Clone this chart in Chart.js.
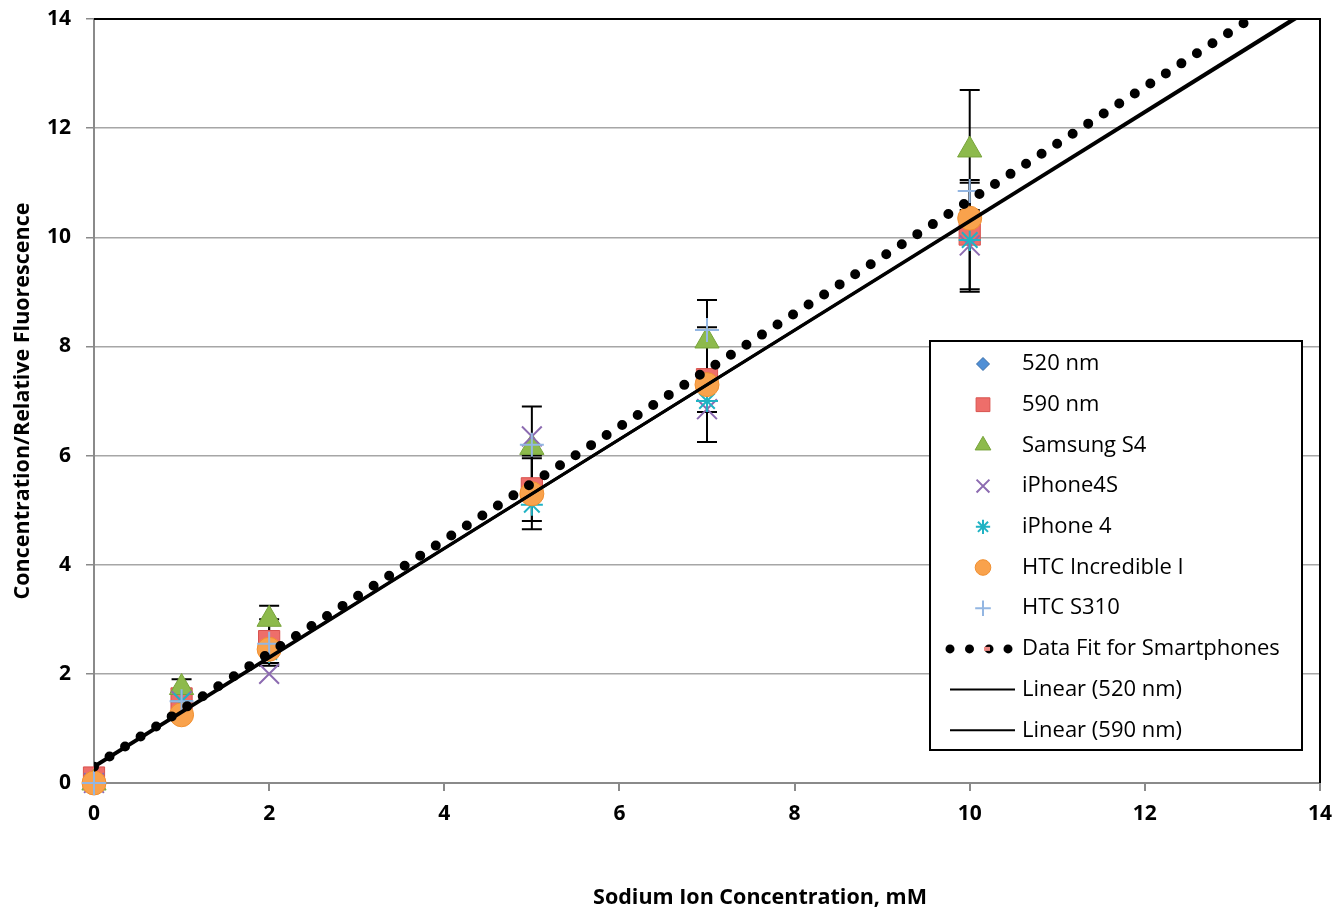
<!DOCTYPE html>
<html>
<head>
<meta charset="utf-8">
<title>Sodium ion calibration</title>
<script src="https://cdn.jsdelivr.net/npm/chart.js@4.4.0/dist/chart.umd.min.js"></script>
<style>
  html, body { margin: 0; padding: 0; background: #fff; }
  canvas { display: block; }
</style>
</head>
<body>
<canvas id="sodiumChart" width="1336" height="910"></canvas>
<script>
// concentrations measured (mM)
const concentration = [0, 1, 2, 5, 7, 10];

// concentration / relative fluorescence, per instrument
const nm520 = [0, 1.45, 2.45, 5.3, 7.3, 10.0];
const nm590 = [0.1, 1.55, 2.6, 5.4, 7.4, 10.05];
const samsungS4 = [0, 1.75, 3.0, 6.15, 8.1, 11.6];
const iphone4S = [0, 1.5, 2.0, 6.35, 6.85, 9.85];
const iphone4 = [0, 1.5, 2.4, 5.1, 7.0, 9.95];
const htcIncredible = [0, 1.25, 2.45, 5.3, 7.3, 10.35];
const htcS310 = [0, 1.5, 2.55, 6.2, 8.3, 10.85];

// error bar half-heights
const err520 = [0, 0.1, 0.3, 0.65, 1.05, 1.0];
const err590 = [0, 0.15, 0.4, 0.6, 0.6, 1.0];
const errSamsung = [0, 0.15, 0.25, 0.75, 0.75, 1.1];

// trend lines (end points)
const lineX = [0, 14];
const fitSmartphones = [0.3, 14.83];
const linear520 = [0.31, 14.28];
const linear590 = [0.29, 14.31];

const xTicks = [0, 2, 4, 6, 8, 10, 12, 14];
const yTicks = [0, 2, 4, 6, 8, 10, 12, 14];

const xTitle = "Sodium Ion Concentration, mM";
const yTitle = "Concentration/Relative Fluorescence";

const FONT = "'Open Sans', Lato, sans-serif";

function pts(xs, ys) {
  return xs.map((x, i) => ({ x: x, y: ys[i] }));
}

const markerSets = [
  { label: "520 nm", values: nm520, err: err520, style: "rectRot", radius: 10, bg: "#4f8fd6", border: "#3a6ea8", width: 1 },
  { label: "590 nm", values: nm590, err: err590, style: "rect", radius: 15, bg: "#ee6e6a", border: "#d8524e", width: 1 },
  { label: "Samsung S4", values: samsungS4, err: errSamsung, style: "triangle", radius: 14, bg: "#8dba4c", border: "#77a33a", width: 1 },
  { label: "iPhone4S", values: iphone4S, err: null, style: "crossRot", radius: 14, bg: "#8c6bb1", border: "#8c6bb1", width: 2 },
  { label: "iPhone 4", values: iphone4, err: null, style: "star", radius: 11, bg: "#20b3c4", border: "#20b3c4", width: 2 },
  { label: "HTC Incredible I", values: htcIncredible, err: null, style: "circle", radius: 12, bg: "#f9a24c", border: "#f08f30", width: 1 },
  { label: "HTC S310", values: htcS310, err: null, style: "cross", radius: 12, bg: "#93b6e2", border: "#93b6e2", width: 2 }
];

const datasets = markerSets.map((s, i) => ({
  label: s.label,
  data: pts(concentration, s.values),
  errors: s.err,
  pointStyle: s.style,
  pointRadius: s.radius,
  pointHoverRadius: s.radius,
  pointBackgroundColor: s.bg,
  pointBorderColor: s.border,
  pointBorderWidth: s.width,
  showLine: false,
  clip: false,
  order: 20 - i
}));

datasets.push({
  label: "Data Fit for Smartphones",
  type: "line",
  data: pts(lineX, fitSmartphones),
  borderColor: "#000",
  borderWidth: 10,
  borderDash: [0, 18.5],
  borderCapStyle: "round",
  pointRadius: 0,
  showLine: true,
  clip: 0,
  order: 3
});
datasets.push({
  label: "Linear (520 nm)",
  type: "line",
  data: pts(lineX, linear520),
  borderColor: "#000",
  borderWidth: 3,
  pointRadius: 0,
  showLine: true,
  clip: 0,
  order: 2
});
datasets.push({
  label: "Linear (590 nm)",
  type: "line",
  data: pts(lineX, linear590),
  borderColor: "#000",
  borderWidth: 3,
  pointRadius: 0,
  showLine: true,
  clip: 0,
  order: 1
});

// error bars, drawn under the markers
const errorBars = {
  id: "errorBars",
  beforeDatasetsDraw(chart) {
    const ctx = chart.ctx;
    const xs = chart.scales.x, ys = chart.scales.y;
    ctx.save();
    ctx.strokeStyle = "#000";
    ctx.lineWidth = 2;
    chart.data.datasets.forEach(ds => {
      if (!ds.errors) return;
      ds.data.forEach((p, i) => {
        const e = ds.errors[i];
        if (!e) return;
        const px = xs.getPixelForValue(p.x);
        const top = ys.getPixelForValue(p.y + e);
        const bot = ys.getPixelForValue(p.y - e);
        ctx.beginPath();
        ctx.moveTo(px, top); ctx.lineTo(px, bot);
        ctx.moveTo(px - 10, top); ctx.lineTo(px + 10, top);
        ctx.moveTo(px - 10, bot); ctx.lineTo(px + 10, bot);
        ctx.stroke();
      });
    });
    ctx.restore();
  }
};

// black frame on top and right of the plot, plus the x title (sits right of centre)
const plotFrame = {
  id: "plotFrame",
  afterDraw(chart) {
    const a = chart.chartArea, ctx = chart.ctx;
    ctx.save();
    ctx.strokeStyle = "#000";
    ctx.lineWidth = 2;
    ctx.beginPath();
    ctx.moveTo(a.left, a.top);
    ctx.lineTo(a.right, a.top);
    ctx.lineTo(a.right, a.bottom);
    ctx.stroke();

    ctx.fillStyle = "#000";
    ctx.font = "bold 21.5px " + FONT;
    ctx.textAlign = "center";
    ctx.textBaseline = "middle";
    ctx.fillText(xTitle, 760, 898);
    ctx.restore();
  }
};

// legend box inside the plot
const boxLegend = {
  id: "boxLegend",
  afterDraw(chart) {
    const ctx = chart.ctx;
    const bx = 930, by = 341, bw = 372, bh = 409;
    const rowH = 40.7, firstY = 364;
    ctx.save();
    ctx.fillStyle = "#fff";
    ctx.fillRect(bx, by, bw, bh);
    ctx.strokeStyle = "#000";
    ctx.lineWidth = 2;
    ctx.strokeRect(bx, by, bw, bh);

    ctx.font = "22px " + FONT;
    ctx.textBaseline = "middle";
    ctx.textAlign = "left";

    markerSets.forEach((s, i) => {
      const y = firstY + i * rowH;
      ctx.fillStyle = s.bg;
      ctx.strokeStyle = s.border;
      ctx.lineWidth = s.width;
      Chart.helpers.drawPoint(ctx, {
        pointStyle: s.style,
        radius: s.radius * 0.65,
        rotation: 0,
        borderWidth: s.width
      }, 983, y);
      ctx.fillStyle = "#000";
      ctx.fillText(s.label, 1022, y);
    });

    // dotted fit sample
    const y = firstY + 7 * rowH;
    [950, 969.5, 989, 1008].forEach((x, k) => {
      ctx.beginPath();
      ctx.fillStyle = "#000";
      ctx.arc(x, y, 4.5, 0, Math.PI * 2);
      ctx.fill();
      if (k === 2) {
        ctx.fillStyle = "#ef8a86";
        ctx.fillRect(x - 5, y - 2, 6, 4);
      }
    });
    ctx.fillStyle = "#000";
    ctx.fillText("Data Fit for Smartphones", 1022, y);

    ["Linear (520 nm)", "Linear (590 nm)"].forEach((t, k) => {
      const ly = firstY + (8 + k) * rowH;
      ctx.strokeStyle = "#000";
      ctx.lineWidth = 2;
      ctx.beginPath();
      ctx.moveTo(950, ly);
      ctx.lineTo(1015, ly);
      ctx.stroke();
      ctx.fillText(t, 1022, ly);
    });
    ctx.restore();
  }
};

new Chart(document.getElementById("sodiumChart").getContext("2d"), {
  type: "scatter",
  data: { datasets },
  options: {
    responsive: false,
    animation: false,
    events: [],
    layout: { padding: { top: 19, right: 16, left: 0, bottom: 0 } },
    plugins: {
      legend: { display: false },
      tooltip: { enabled: false }
    },
    scales: {
      x: {
        type: "linear",
        min: 0,
        max: 14,
        afterBuildTicks: scale => { scale.ticks = xTicks.map(v => ({ value: v })); },
        afterFit: scale => {
          scale.height = 127;
          scale.paddingLeft = 0;
          scale.paddingRight = 0;
        },
        border: { display: true, color: "#8a8a8a", width: 2 },
        grid: { drawOnChartArea: false, drawTicks: true, tickLength: 8, tickColor: "#8a8a8a", lineWidth: 2 },
        ticks: { color: "#000", padding: 10, font: { family: FONT, size: 21, weight: "bold" } },
        title: { display: false }
      },
      y: {
        type: "linear",
        min: 0,
        max: 14,
        afterBuildTicks: scale => { scale.ticks = yTicks.map(v => ({ value: v })); },
        afterFit: scale => {
          scale.width = 94;
          scale.paddingTop = 0;
          scale.paddingBottom = 0;
        },
        border: { display: true, color: "#8a8a8a", width: 2 },
        grid: {
          color: ctx => (ctx.tick && ctx.tick.value === 14 ? "#000" : "#a6a6a6"),
          lineWidth: 1.5,
          drawTicks: true,
          tickLength: 8,
          tickColor: "#8a8a8a"
        },
        ticks: { color: "#000", padding: 15, font: { family: FONT, size: 21, weight: "bold" } },
        title: {
          display: true,
          text: yTitle,
          color: "#000",
          padding: { top: 10, bottom: 0 },
          font: { family: FONT, size: 21.5, weight: "bold" }
        }
      }
    }
  },
  plugins: [errorBars, plotFrame, boxLegend]
});
</script>
</body>
</html>
